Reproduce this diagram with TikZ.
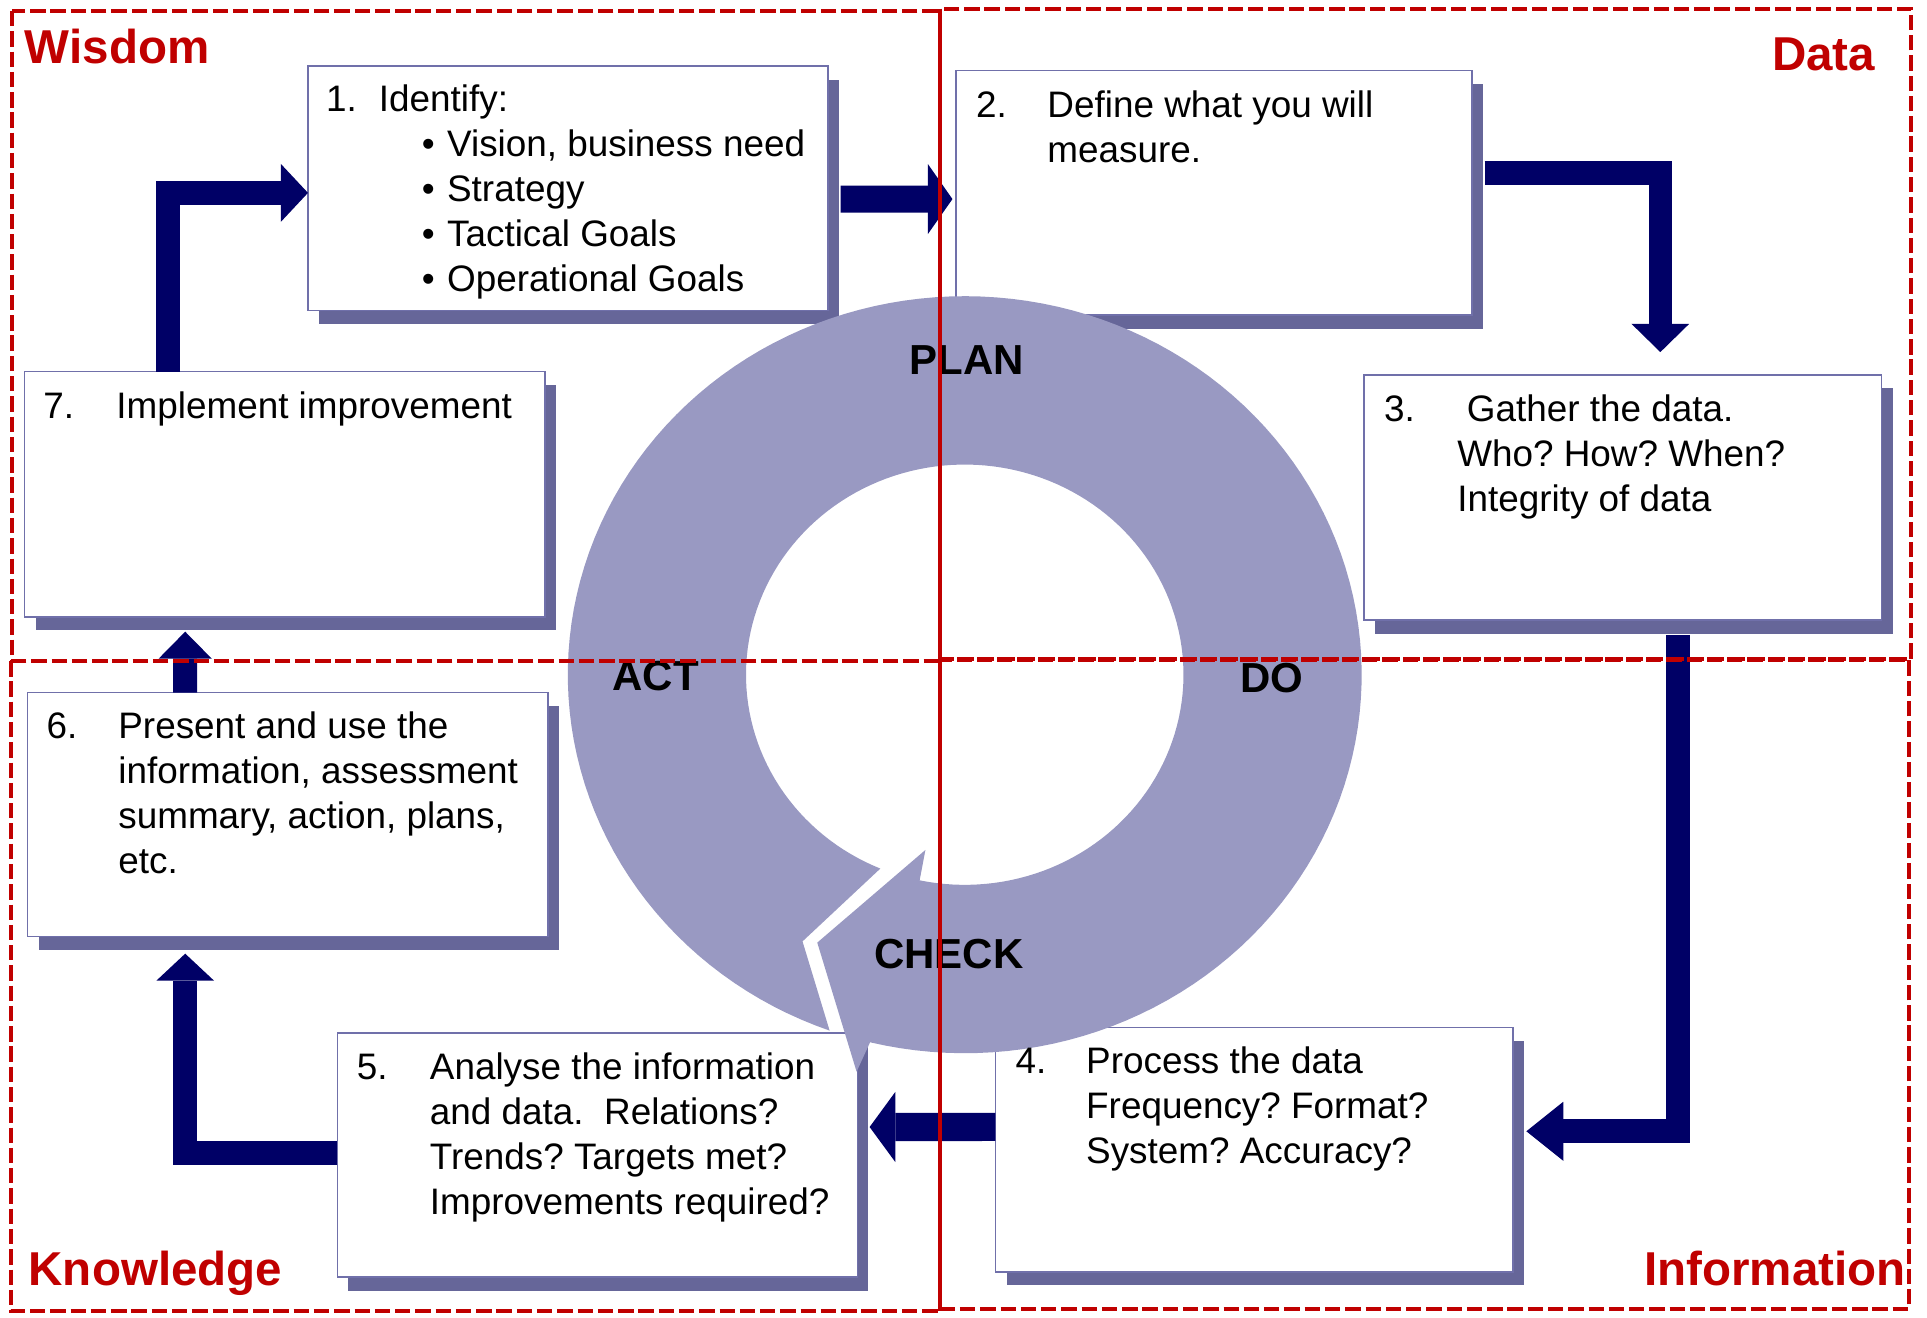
\documentclass[tikz,border=0pt]{standalone}
\usepackage{fontspec}
\setmainfont{Liberation Sans}
\usetikzlibrary{arrows.meta,calc,fit,shadows}
\definecolor{navyc}{RGB}{0,0,102}
\definecolor{ringc}{RGB}{153,153,194}
\definecolor{shadowc}{RGB}{102,102,153}
\definecolor{borderc}{RGB}{112,112,170}
\definecolor{redc}{RGB}{192,0,0}
\begin{document}
\frenchspacing
\begin{tikzpicture}[x=0.6pt,y=-0.6pt,
  box/.style={draw=borderc, line width=0.8pt, fill=white, inner sep=0pt, outer sep=0pt,
    drop shadow={shadow xshift=5.4pt, shadow yshift=-6.6pt, opacity=1, fill=shadowc}},
  txt/.style={anchor=base west, inner sep=0pt, font=\fontsize{18}{22}\selectfont},
  cyc/.style={anchor=base west, inner sep=0pt, font=\fontsize{20.5}{24}\selectfont\bfseries},
  ttl/.style={inner sep=0pt, text=redc, font=\fontsize{23.2}{28}\selectfont\bfseries},
  barrow/.style args={#1/#2/#3}{draw=navyc, line width=#1, -{Triangle[width=#2, length=#3, line width=0pt]}},
  frame/.style={draw=redc, line width=2pt, dash pattern=on 7.5pt off 2.4pt}
]
\useasboundingbox (0,0) rectangle (1568,1072);

% boxes
\node[box, fit={(250.6,53.7) (673.7,252.6)}] (b1) {};
\node[box, fit={(778,57.5) (1198,256.5)}] (b2) {};
\node[box, fit={(1110,305) (1531,504.6)}] (b3) {};
\node[box, fit={(810,836.2) (1231,1034.8)}] (b4) {};
\node[box, fit={(274.5,840.8) (697.6,1039.3)}] (b5) {};
\node[box, fit={(22.4,563.6) (446,762)}] (b6) {};
\node[box, fit={(20,302.4) (443.5,502)}] (b7) {};

% cycle ring with arrow head
\fill[ringc] plot[domain=112.7:461.9, samples=160, variable=\t] ({785+178*cos(\t)},{549+171*sin(\t)})
  -- (753,691.6) -- (665,767) -- (697,872)
  -- plot[domain=463.8:109.9, samples=160, variable=\t] ({785+323*cos(\t)},{549+308*sin(\t)})
  -- (653,766) -- cycle;

% box texts
\node[txt] (n1) at (265,91) {1.};
\node[txt] (t1) at (308,91) {Identify:};
\node[txt] (k1) at (343,127) {\begin{tabular}[t]{@{}l@{}}•\\•\\•\\•\end{tabular}};
\node[txt] (t1b) at (363.5,127) {\begin{tabular}[t]{@{}l@{}}Vision, business need\\Strategy\\Tactical Goals\\Operational Goals\end{tabular}};

\node[txt] (n2) at (794,95.3) {2.};
\node[txt] (t2) at (852,95.3) {\begin{tabular}[t]{@{}l@{}}Define what you will\\measure.\end{tabular}};

\node[txt] (n3) at (1126,343) {3.};
\node[txt] (t3) at (1185.5,343) {\begin{tabular}[t]{@{}l@{}}\hspace*{4.7pt}Gather the data.\\Who? How? When?\\Integrity of data\end{tabular}};

\node[txt] (n4) at (826,873.2) {4.};
\node[txt] (t4) at (883.5,873.2) {\begin{tabular}[t]{@{}l@{}}Process the data\\Frequency? Format?\\System? Accuracy?\end{tabular}};

\node[txt] (n5) at (290,878.4) {5.};
\node[txt] (t5) at (349.5,878.4) {\begin{tabular}[t]{@{}l@{}}Analyse the information\\and data.\ \ Relations?\\Trends? Targets met?\\Improvements required?\end{tabular}};

\node[txt] (n6) at (37.7,600.8) {6.};
\node[txt] (t6) at (96,600.8) {\begin{tabular}[t]{@{}l@{}}Present and use the\\information, assessment\\summary, action, plans,\\etc.\end{tabular}};

\node[txt] (n7) at (35,340.5) {7.};
\node[txt] (t7) at (94.4,340.5) {Implement improvement};

% block arrows
\draw[barrow=11.7pt/28.2pt/13.2pt] ($(b7.north west)+(116.5,0)$) |- ($(b1.west)+(0,3.8)$);
\draw[barrow=13.2pt/34.2pt/12pt] ($(b1.east)+(10.3,8.8)$) -- ($(b2.west)+(-3,5)$);
\draw[barrow=11.5pt/28.2pt/13.8pt] ($(b2.east)+(10,-16)$) -| ($(b3.north)+(30.5,-18.5)$);
\draw[barrow=11.8pt/28.8pt/18pt] ($(b3.south)+(45,12.4)$) |- ($(b4.east)+(11,-15)$);
\draw[barrow=13.7pt/34.4pt/12.6pt] ($(b4.west)+(0,-18.5)$) -- ($(b5.east)+(10,-23)$);
\draw[barrow=11.7pt/28.2pt/13.2pt] ($(b5.west)+(0,-2)$) -| ($(b6.south)+(-83.5,14)$);
\draw[barrow=11.7pt/26pt/13.2pt] ($(b6.north west)+(128.3,0)$) -- ($(b7.south west)+(130.7,12)$);

% cycle labels
\node[cyc] (plan) at (740,305) {PLAN};
\node[cyc] (do) at (1008.8,563.6) {DO};
\node[cyc] (check) at (711,787.9) {CHECK};
\node[cyc] (act) at (498,562) {ACT};

% quadrant frames
\draw[frame] (10,9) rectangle (765,538);
\draw[frame] (765,7) rectangle (1555,536.5);
\draw[frame] (9,538) rectangle (765,1067);
\draw[frame] (765,536.6) rectangle (1553,1065);

% quadrant titles
\node[ttl, anchor=base west] (wis) at (20,52) {Wisdom};
\node[ttl, anchor=base east] (dat) at (1526,57.5) {Data};
\node[ttl, anchor=base west] (kno) at (23,1046) {Knowledge};
\node[ttl, anchor=base east] (inf) at (1551,1046) {Information};
\end{tikzpicture}
\end{document}
